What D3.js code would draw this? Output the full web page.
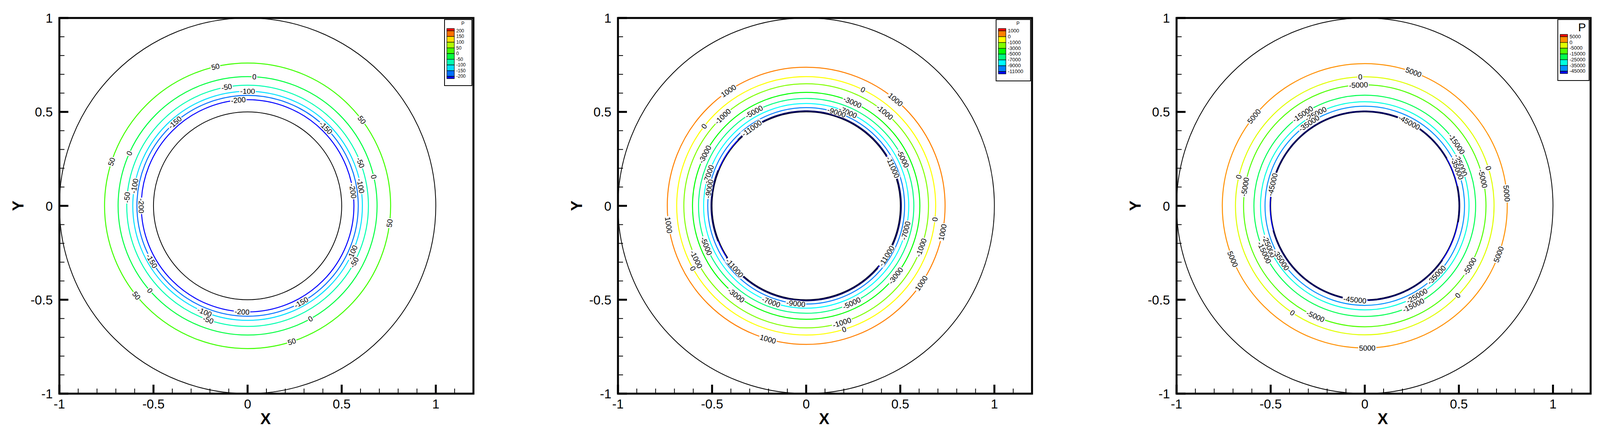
<!DOCTYPE html>
<html>
<head>
<meta charset="utf-8">
<script src="https://cdn.jsdelivr.net/npm/d3@7"></script>
<style>
  body { margin: 0; background: #fff; }
  text { font-family: "Liberation Sans", Arial, sans-serif; }
</style>
</head>
<body>
<svg id="chart" width="4106" height="1123"></svg>
<script>
// ---- data ----
var xTicks = [-1, -0.5, 0, 0.5, 1];
var yTicks = [-1, -0.5, 0, 0.5, 1];

// panel 1
var levels1 = [200, 150, 100, 50, 0, -50, -100, -150, -200];
var bands1 = ["#ff0000", "#ff7000", "#ffe000", "#b0ff00", "#40ff00", "#00ff40", "#00ffb0", "#00e0ff", "#0070ff", "#0000ff"];
var lineLevels1 = [50, 0, -50, -100, -150, -200];
var radii1 = [0.76, 0.688, 0.642, 0.61, 0.588, 0.565];
var labelAngles1 = [
  [103, 37, 162, 353, 219, 288],
  [87, 156, 13, 221, 299],
  [100, 176, 21, 332, 251],
  [90, 170, 10, 336, 248],
  [131, 45, 210, 299],
  [95, 180, 8, 267]
];

// panel 2
var levels2 = [1000, 0, -1000, -3000, -5000, -7000, -9000, -11000];
var bands2 = ["#ff0000", "#ff8000", "#ffff00", "#80ff00", "#00ff00", "#00ff80", "#00ffff", "#0080ff", "#0000ff"];
var lineLevels2 = [1000, 0, -1000, -3000, -5000, -7000, -9000, -11000];
var radii2 = [0.738, 0.688, 0.65, 0.604, 0.572, 0.545, 0.523, 0.504];
var labelAngles2 = [
  [124, 50, 188, 349, 326, 254],
  [64, 142, 354, 209, 287],
  [133, 50, 340, 206, 287],
  [66, 153, 322, 232],
  [119, 26, 202, 295],
  [66, 162, 346, 250],
  [72, 170, 264],
  [125, 24, 221, 328]
];
var darkArcs2 = [[32, 136], [158, 202], [213, 319], [335, 378]];

// panel 3
var levels3 = [5000, 0, -5000, -15000, -25000, -35000, -45000];
var bands3 = ["#ff0000", "#ff9000", "#e0ff00", "#50ff00", "#00ff50", "#00ffe0", "#0090ff", "#0000ff"];
var lineLevels3 = [5000, 0, -5000, -15000, -25000, -35000, -45000];
var radii3 = [0.757, 0.687, 0.644, 0.589, 0.554, 0.53, 0.503];
var labelAngles3 = [
  [70, 141, 5, 202, 340, 271],
  [92, 167, 17, 316, 236],
  [93, 171, 13, 330, 246],
  [124, 34, 205, 296],
  [118, 23, 203, 300],
  [124, 22, 213, 316],
  [62, 167, 264]
];
var darkArcs3 = [[30, 165], [195, 258], [272, 325], [350, 372]];

// ---- layout ----
var panelLefts = [152, 1582, 3012];
var panelW = 1060, frameTop = 46, frameBottom = 1007;

function lineColor(levels, bands, lv) {
  return bands[levels.indexOf(lv) + 1];
}

var panels = [
  {levels: levels1, bands: bands1, lines: lineLevels1, radii: radii1, labels: labelAngles1, arcs: null, legendW: 70, legendFont: 12, titleFont: 12},
  {levels: levels2, bands: bands2, lines: lineLevels2, radii: radii2, labels: labelAngles2, arcs: darkArcs2, legendW: 88, legendFont: 13, titleFont: 12},
  {levels: levels3, bands: bands3, lines: lineLevels3, radii: radii3, labels: labelAngles3, arcs: darkArcs3, legendW: 80, legendFont: 13, titleFont: 30}
];

var svg = d3.select("#chart");

panels.forEach(function(p, i) {
  var left = panelLefts[i];
  var x = d3.scaleLinear().domain([-1, 1.2]).range([left, left + panelW]);
  var y = d3.scaleLinear().domain([-1, 1]).range([frameBottom, frameTop]);
  var g = svg.append("g");
  var ux = x(1) - x(0), uy = y(0) - y(1);

  // clip
  var clipId = "clip" + i;
  svg.append("clipPath").attr("id", clipId).append("rect")
    .attr("x", x(-1)).attr("y", y(1)).attr("width", panelW).attr("height", frameBottom - frameTop);
  var plot = g.append("g").attr("clip-path", "url(#" + clipId + ")");

  // boundary circles
  [1, 0.5].forEach(function(r) {
    plot.append("ellipse").attr("cx", x(0)).attr("cy", y(0))
      .attr("rx", r * ux).attr("ry", r * uy)
      .attr("fill", "none").attr("stroke", "#000").attr("stroke-width", 2);
  });

  // contour lines
  p.lines.forEach(function(lv, k) {
    plot.append("ellipse").attr("cx", x(0)).attr("cy", y(0))
      .attr("rx", p.radii[k] * ux).attr("ry", p.radii[k] * uy)
      .attr("fill", "none").attr("stroke", lineColor(p.levels, p.bands, lv)).attr("stroke-width", 2.5);
  });

  // darker thick arcs on the innermost level
  if (p.arcs) {
    var r = p.radii[p.radii.length - 1];
    p.arcs.forEach(function(a) {
      var pts = d3.range(a[0], a[1] + 1, 1).map(function(t) {
        var rad = t * Math.PI / 180;
        return [x(r * Math.cos(rad)), y(r * Math.sin(rad))];
      });
      plot.append("path").attr("d", d3.line()(pts))
        .attr("fill", "none").attr("stroke", "#000060").attr("stroke-width", 4);
    });
  }

  // contour labels
  p.lines.forEach(function(lv, k) {
    p.labels[k].forEach(function(t) {
      var rad = t * Math.PI / 180;
      var px = x(p.radii[k] * Math.cos(rad)), py = y(p.radii[k] * Math.sin(rad));
      var rot = -(t - 90);
      rot = ((rot % 360) + 360) % 360;
      if (rot > 90 && rot <= 270) rot -= 180;
      if (rot > 180) rot -= 360;
      var lg = plot.append("g").attr("transform", "translate(" + px + "," + py + ") rotate(" + rot + ")");
      var txt = lg.append("text").attr("text-anchor", "middle").attr("dy", "0.35em")
        .attr("font-size", 19).text(lv);
      var w = txt.node().getComputedTextLength();
      lg.insert("rect", "text").attr("x", -w / 2 - 2).attr("y", -8).attr("width", w + 4).attr("height", 16).attr("fill", "#fff");
    });
  });

  // ticks
  var minor = d3.range(-10, 13).map(function(v) { return v / 10; });
  minor.forEach(function(v) {
    var major = Math.abs(v * 2 - Math.round(v * 2)) < 1e-9;
    var len = major ? 23 : 13;
    g.append("line").attr("x1", x(v)).attr("x2", x(v)).attr("y1", frameBottom).attr("y2", frameBottom - len)
      .attr("stroke", "#000").attr("stroke-width", major ? 5 : 2);
    if (v <= 1) {
      g.append("line").attr("y1", y(v)).attr("y2", y(v)).attr("x1", x(-1)).attr("x2", x(-1) + len)
        .attr("stroke", "#000").attr("stroke-width", major ? 5 : 2);
    }
  });

  // frame
  g.append("rect").attr("x", x(-1)).attr("y", frameTop).attr("width", panelW).attr("height", frameBottom - frameTop)
    .attr("fill", "none").attr("stroke", "#000").attr("stroke-width", 5);

  // tick labels
  xTicks.forEach(function(v) {
    g.append("text").attr("x", x(v)).attr("y", frameBottom + 38).attr("text-anchor", "middle")
      .attr("font-size", 33).text(v);
  });
  yTicks.forEach(function(v) {
    g.append("text").attr("x", x(-1) - 17).attr("y", y(v) + 12).attr("text-anchor", "end")
      .attr("font-size", 33).text(v);
  });

  // axis titles
  g.append("text").attr("x", x(0) + 46).attr("y", frameBottom + 78).attr("text-anchor", "middle")
    .attr("font-size", 40).attr("font-weight", "bold").text("X");
  g.append("text").attr("transform", "translate(" + (x(-1) - 92) + "," + y(0) + ") rotate(-90)")
    .attr("text-anchor", "middle").attr("font-size", 40).attr("font-weight", "bold").text("Y");

  // legend
  var lw = p.legendW, lx = left + panelW - 4 - lw, ly = 50;
  var nb = p.bands.length;
  var sx = lx + 6, sw = 19;
  var sTop = ly + (i === 2 ? 38 : 23), sBot = ly + (i === 2 ? 144 : (i === 0 ? 157 : 145));
  var step = (sBot - sTop) / (nb - 0.8);
  var thin = step * 0.4;
  var lgd = g.append("g");
  lgd.append("rect").attr("x", lx).attr("y", ly).attr("width", lw).attr("height", sBot - ly + 12)
    .attr("fill", "#fff").attr("stroke", "#000").attr("stroke-width", 2);
  lgd.append("text").attr("x", lx + lw / 2 + (i === 2 ? 22 : 12)).attr("y", ly + (i === 2 ? 30 : 14))
    .attr("text-anchor", "middle").attr("font-size", p.titleFont).text("P");
  var yy = sTop;
  p.bands.forEach(function(c, b) {
    var h = (b === 0 || b === nb - 1) ? thin : step;
    lgd.append("rect").attr("x", sx).attr("y", yy).attr("width", sw).attr("height", h)
      .attr("fill", c).attr("stroke", "#000").attr("stroke-width", 1.2);
    yy += h;
  });
  p.levels.forEach(function(lv, k) {
    lgd.append("text").attr("x", sx + sw + 5).attr("y", sTop + thin + k * step + 4)
      .attr("font-size", p.legendFont).text(lv);
  });
});
</script>
</body>
</html>
